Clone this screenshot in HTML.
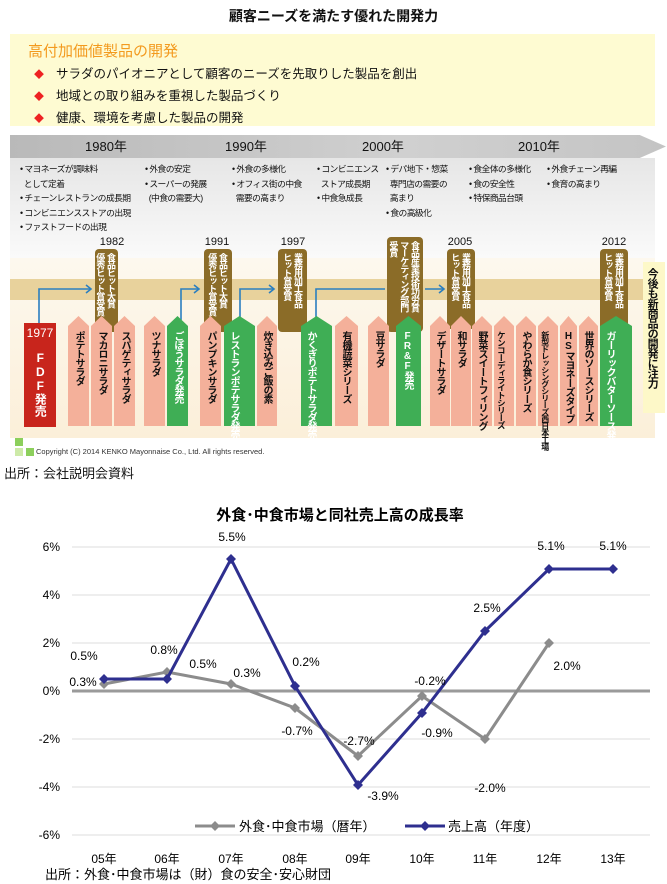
<!DOCTYPE html>
<html><head><meta charset="utf-8"><style>
*{margin:0;padding:0;box-sizing:border-box}
body{width:667px;height:884px;background:#fff;position:relative;overflow:hidden;font-family:"Liberation Sans","Noto Sans CJK JP",sans-serif;color:#111}
.a{position:absolute}
.v{writing-mode:vertical-rl;text-orientation:upright;line-height:1.05}
.p{position:absolute;top:316px;height:110px;clip-path:polygon(50% 0,100% 10px,100% 100%,0 100%,0 10px);}
.pk{background:#f4b09a}
.gr{background:#3fae55}
.t{position:absolute;top:331px;font-size:10px;font-weight:bold;writing-mode:vertical-rl;text-orientation:upright;line-height:1.1;letter-spacing:-1px}
.aw{position:absolute;background:#8b6c28;border-radius:4px}
.aw span{position:absolute;top:4px;right:2px;color:#fff;font-size:9px;font-weight:bold;writing-mode:vertical-rl;text-orientation:upright;line-height:1.2;letter-spacing:-1.2px;white-space:nowrap}
.yr{position:absolute;top:236px;font-size:11px;width:40px;text-align:center}
.b{position:absolute;font-size:8.8px;line-height:14.5px;letter-spacing:-0.6px;white-space:nowrap}
</style></head><body>
<div class="a" style="left:0;width:667px;top:6px;text-align:center;font-size:14px;font-weight:bold">顧客ニーズを満たす優れた開発力</div>
<div class="a" style="left:10px;top:34px;width:645px;height:92px;background:#fefbd2"></div>
<div class="a" style="left:28px;top:40px;font-size:15px;color:#f39a1e">高付加価値製品の開発</div>
<div class="a" style="left:34px;top:64px;font-size:12.5px;line-height:20px">
<div><span style="color:#e22;font-size:10px;margin-right:12px">◆</span>サラダのパイオニアとして顧客のニーズを先取りした製品を創出</div>
<div><span style="color:#e22;font-size:10px;margin-right:12px">◆</span>地域との取り組みを重視した製品づくり</div>
<div><span style="color:#e22;font-size:10px;margin-right:12px">◆</span>健康、環境を考慮した製品の開発</div></div>
<div class="a" style="left:10px;top:158px;width:645px;height:100px;background:linear-gradient(#e6e6e6,#fafafa)"></div>
<div class="a" style="left:10px;top:258px;width:645px;height:180px;background:linear-gradient(#fdf8ee,#fbefd9)"></div>
<div class="a" style="left:10px;top:279px;width:640px;height:21px;background:#e8d29c"></div>
<div class="a" style="left:10px;top:135px;width:656px;height:23px;background:linear-gradient(90deg,#b9b9b9,#d0d0d0 60%,#c4c4c4);clip-path:polygon(0 0,96% 0,100% 50%,96% 100%,0 100%)"></div>
<div class="a" style="left:85px;top:136px;font-size:13px">1980年</div>
<div class="a" style="left:225px;top:136px;font-size:13px">1990年</div>
<div class="a" style="left:362px;top:136px;font-size:13px">2000年</div>
<div class="a" style="left:518px;top:136px;font-size:13px">2010年</div>
<div class="b" style="left:20px;top:162px">• マヨネーズが調味料<br>&nbsp;&nbsp;として定着<br>• チェーンレストランの成長期<br>• コンビニエンスストアの出現<br>• ファストフードの出現</div>
<div class="b" style="left:145px;top:162px">• 外食の安定<br>• スーパーの発展<br>&nbsp;&nbsp;(中食の需要大)</div>
<div class="b" style="left:232px;top:162px">• 外食の多様化<br>• オフィス街の中食<br>&nbsp;&nbsp;需要の高まり</div>
<div class="b" style="left:317px;top:162px">• コンビニエンス<br>&nbsp;&nbsp;ストア成長期<br>• 中食急成長</div>
<div class="b" style="left:386px;top:162px">• デパ地下・惣菜<br>&nbsp;&nbsp;専門店の需要の<br>&nbsp;&nbsp;高まり<br>• 食の高級化</div>
<div class="b" style="left:469px;top:162px">• 食全体の多様化<br>• 食の安全性<br>• 特保商品台頭</div>
<div class="b" style="left:547px;top:162px">• 外食チェーン再編<br>• 食育の高まり</div>
<svg class="a" style="left:0;top:0" width="667" height="884">
<g stroke="#2b7fc0" stroke-width="1.6" fill="none">
<path d="M39 323V289H90"/><path d="M86 285l5 4-5 4"/>
<path d="M181 320V289H198"/><path d="M194 285l5 4-5 4"/>
<path d="M240 320V289H273"/><path d="M269 285l5 4-5 4"/>
<path d="M316 320V289H385"/><path d="M425 289H443"/><path d="M439 285l5 4-5 4"/>
</g></svg>
<div class="yr" style="left:92px">1982</div><div class="yr" style="left:197px">1991</div><div class="yr" style="left:273px">1997</div><div class="yr" style="left:440px">2005</div><div class="yr" style="left:594px">2012</div>
<div class="aw" style="left:95px;top:249px;width:23px;height:83px"><span>食品ヒット大賞<br>優秀ヒット賞受賞</span></div>
<div class="aw" style="left:204px;top:249px;width:28px;height:83px"><span style="right:4px">食品ヒット大賞<br>優秀ヒット賞受賞</span></div>
<div class="aw" style="left:278px;top:249px;width:29px;height:83px"><span style="right:4px">業務用加工食品<br>ヒット賞受賞</span></div>
<div class="aw" style="left:387px;top:237px;width:36px;height:95px"><span style="right:3px">食品産業技術功労賞<br>マーケティング部門<br>受賞</span></div>
<div class="aw" style="left:447px;top:249px;width:28px;height:80px"><span style="right:4px">業務用加工食品<br>ヒット賞受賞</span></div>
<div class="aw" style="left:600px;top:249px;width:28px;height:81px"><span style="right:4px">業務用加工食品<br>ヒット賞受賞</span></div>
<div class="a" style="left:24px;top:323px;width:32px;height:104px;background:#c8251c;color:#fff;text-align:center;font-size:12px;padding-top:3px">1977<div class="v" style="margin:4px auto 0;font-size:12px;font-weight:bold;height:80px;white-space:nowrap">FDF発売</div></div>
<div class="a" style="left:643px;top:262px;width:22px;height:151px;background:#fdf8c8"></div>
<div class="t" style="left:646px;top:268px;font-size:11px">今後も新商品の開発に注力</div>
<div class="p pk" style="left:68px;width:21px"></div><div class="t" style="left:73px">ポテトサラダ</div>
<div class="p pk" style="left:91px;width:21px"></div><div class="t" style="left:96px">マカロニサラダ</div>
<div class="p pk" style="left:114px;width:21px"></div><div class="t" style="left:119px">スパゲティサラダ</div>
<div class="p pk" style="left:144px;width:21px"></div><div class="t" style="left:149px">ツナサラダ</div>
<div class="p gr" style="left:167px;width:21px"></div><div class="t" style="left:172px;color:#fff">ごぼうサラダ発売</div>
<div class="p pk" style="left:200px;width:21px"></div><div class="t" style="left:205px">パンプキンサラダ</div>
<div class="p gr" style="left:224px;width:31px"></div><div class="t" style="left:228px;color:#fff">レストランポテサラダ発売</div>
<div class="p pk" style="left:257px;width:20px"></div><div class="t" style="left:261px">炊き込みご飯の素</div>
<div class="p gr" style="left:301px;width:31px"></div><div class="t" style="left:305px;color:#fff">かくぎりポテトサラダ発売</div>
<div class="p pk" style="left:335px;width:23px"></div><div class="t" style="left:340px">有機蔬菜シリーズ</div>
<div class="p pk" style="left:368px;width:21px"></div><div class="t" style="left:373px">豆サラダ</div>
<div class="p gr" style="left:396px;width:25px"></div><div class="t" style="left:402px;color:#fff">FR&amp;F発売</div>
<div class="p pk" style="left:430px;width:20px"></div><div class="t" style="left:434px">デザートサラダ</div>
<div class="p pk" style="left:451px;width:20px"></div><div class="t" style="left:455px">和サラダ</div>
<div class="p pk" style="left:472px;width:20px"></div><div class="t" style="left:476px">野菜スイートフィリング</div>
<div class="p pk" style="left:494px;width:20px"></div><div class="t" style="left:496px;font-size:8.5px">ケンコーディライトシリーズ</div>
<div class="p pk" style="left:516px;width:20px"></div><div class="t" style="left:520px">やわらか食シリーズ</div>
<div class="p pk" style="left:538px;width:20px"></div><div class="t" style="left:540px;font-size:8px">新型ドレッシングシリーズ西日本工場</div>
<div class="p pk" style="left:560px;width:17px"></div><div class="t" style="left:563px">HSマヨネーズタイプ</div>
<div class="p pk" style="left:579px;width:19px"></div><div class="t" style="left:582px">世界のソースシリーズ</div>
<div class="p gr" style="left:600px;width:32px"></div><div class="t" style="left:604px;color:#fff">ガーリックバターソース発売</div>
<div class="a" style="left:15px;top:438px;width:8px;height:8px;background:#8ccf5c"></div>
<div class="a" style="left:15px;top:448px;width:8px;height:8px;background:#cdeaa8"></div>
<div class="a" style="left:26px;top:448px;width:8px;height:8px;background:#8ccf5c"></div>
<div class="a" style="left:36px;top:447px;font-size:7.5px;color:#333">Copyright (C) 2014 KENKO Mayonnaise Co., Ltd. All rights reserved.</div>
<div class="a" style="left:4px;top:463px;font-size:13px">出所：会社説明会資料</div>
<svg class="a" style="left:0;top:0" width="667" height="884" font-family="Liberation Sans, Noto Sans CJK JP, sans-serif">
<text x="340" y="520" text-anchor="middle" font-size="15" font-weight="bold">外食･中食市場と同社売上高の成長率</text>
<g stroke="#ddd" stroke-width="1"><line x1="72" x2="650" y1="547" y2="547"/><line x1="72" x2="650" y1="595" y2="595"/><line x1="72" x2="650" y1="643" y2="643"/><line x1="72" x2="650" y1="739" y2="739"/><line x1="72" x2="650" y1="787" y2="787"/><line x1="72" x2="650" y1="835" y2="835"/></g>
<line x1="72" x2="650" y1="691" y2="691" stroke="#9a9a9a" stroke-width="3"/>
<g font-size="12" text-anchor="end"><text x="60" y="551">6%</text><text x="60" y="599">4%</text><text x="60" y="647">2%</text><text x="60" y="695">0%</text><text x="60" y="743">-2%</text><text x="60" y="791">-4%</text><text x="60" y="839">-6%</text></g>
<g font-size="12" text-anchor="middle"><text x="104" y="863">05年</text><text x="167" y="863">06年</text><text x="231" y="863">07年</text><text x="295" y="863">08年</text><text x="358" y="863">09年</text><text x="422" y="863">10年</text><text x="485" y="863">11年</text><text x="549" y="863">12年</text><text x="613" y="863">13年</text></g>
<polyline fill="none" stroke="#8c8c8c" stroke-width="3" points="104,684 167,672 231,684 295,708 358,756 422,696 485,739 549,643"/>
<g fill="#8c8c8c"><path d="M104 679l5 5-5 5-5-5z"/><path d="M167 667l5 5-5 5-5-5z"/><path d="M231 679l5 5-5 5-5-5z"/><path d="M295 703l5 5-5 5-5-5z"/><path d="M358 751l5 5-5 5-5-5z"/><path d="M422 691l5 5-5 5-5-5z"/><path d="M485 734l5 5-5 5-5-5z"/><path d="M549 638l5 5-5 5-5-5z"/></g>
<polyline fill="none" stroke="#2e2f8f" stroke-width="3" points="104,679 167,679 231,559 295,686 358,785 422,713 485,631 549,569 613,569"/>
<g fill="#2e2f8f"><path d="M104 674l5 5-5 5-5-5z"/><path d="M167 674l5 5-5 5-5-5z"/><path d="M231 554l5 5-5 5-5-5z"/><path d="M295 681l5 5-5 5-5-5z"/><path d="M358 780l5 5-5 5-5-5z"/><path d="M422 708l5 5-5 5-5-5z"/><path d="M485 626l5 5-5 5-5-5z"/><path d="M549 564l5 5-5 5-5-5z"/><path d="M613 564l5 5-5 5-5-5z"/></g>
<g font-size="12" text-anchor="middle">
<text x="84" y="660">0.5%</text><text x="83" y="686">0.3%</text><text x="164" y="654">0.8%</text><text x="203" y="668">0.5%</text><text x="232" y="541">5.5%</text><text x="247" y="677">0.3%</text><text x="306" y="666">0.2%</text><text x="297" y="735">-0.7%</text><text x="359" y="745">-2.7%</text><text x="383" y="800">-3.9%</text><text x="430" y="685">-0.2%</text><text x="437" y="737">-0.9%</text><text x="487" y="612">2.5%</text><text x="490" y="792">-2.0%</text><text x="567" y="670">2.0%</text><text x="551" y="550">5.1%</text><text x="613" y="550">5.1%</text></g>
<line x1="195" x2="235" y1="826" y2="826" stroke="#8c8c8c" stroke-width="3"/><path d="M215 821l5 5-5 5-5-5z" fill="#8c8c8c"/>
<text x="239" y="831" font-size="13">外食･中食市場（暦年）</text>
<line x1="405" x2="445" y1="826" y2="826" stroke="#2e2f8f" stroke-width="3"/><path d="M425 821l5 5-5 5-5-5z" fill="#2e2f8f"/>
<text x="448" y="831" font-size="13">売上高（年度）</text>
<text x="45" y="879" font-size="13">出所：外食･中食市場は（財）食の安全･安心財団</text>
</svg>
</body></html>
